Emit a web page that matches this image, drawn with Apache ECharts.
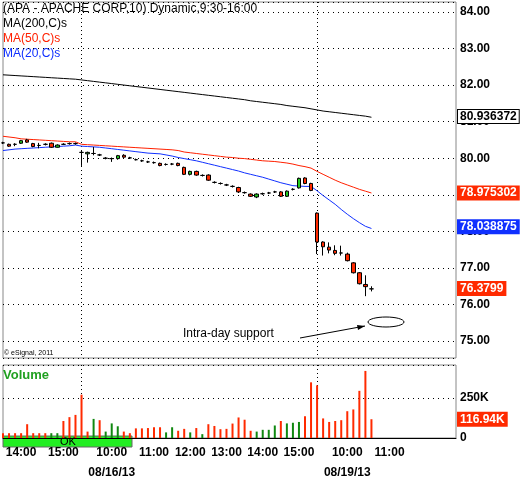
<!DOCTYPE html>
<html><head><meta charset="utf-8">
<script src="https://cdn.jsdelivr.net/npm/echarts@6/dist/echarts.min.js"></script>
<style>html,body{margin:0;padding:0;background:#fff}#c{width:521px;height:483px}</style>
</head><body><div id="c"></div>
<script>
// [open, close, low, high]
const candles = [
[80.42,80.42,80.39,80.45],[80.38,80.33,80.31,80.40],[80.38,80.38,80.33,80.41],[80.41,80.48,80.39,80.50],
[80.50,80.44,80.42,80.53],[80.40,80.32,80.30,80.42],[80.35,80.35,80.27,80.42],[80.38,80.38,80.35,80.41],
[80.41,80.30,80.28,80.43],[80.30,80.36,80.29,80.38],[80.38,80.38,80.36,80.41],[80.40,80.40,80.37,80.43],
[80.40,80.40,80.37,80.43],[80.16,80.16,79.79,80.21],[80.12,80.16,79.88,80.18],[80.13,80.13,80.08,80.31],
[80.09,80.09,80.06,80.12],[80.00,80.00,79.97,80.03],[79.99,79.99,79.90,80.02],[79.99,80.07,79.96,80.09],
[80.08,80.03,80.01,80.11],[80.01,80.01,79.98,80.04],[79.96,79.96,79.94,79.99],[79.93,79.93,79.90,79.96],
[79.90,79.90,79.87,79.93],[79.88,79.88,79.85,79.91],[79.86,79.80,79.78,79.88],[79.83,79.83,79.80,79.86],
[79.84,79.84,79.81,79.87],[79.86,79.80,79.78,79.88],[79.75,79.56,79.54,79.77],[79.56,79.64,79.53,79.66],
[79.64,79.54,79.52,79.66],[79.53,79.53,79.50,79.56],[79.54,79.40,79.38,79.56],[79.34,79.34,79.31,79.37],
[79.31,79.31,79.28,79.34],[79.27,79.27,79.24,79.30],[79.23,79.23,79.20,79.26],[79.20,79.08,79.05,79.22],
[79.06,79.06,79.03,79.09],[79.02,78.96,78.94,79.04],[78.94,79.02,78.91,79.04],[79.03,79.03,79.00,79.06],
[79.05,79.05,79.02,79.08],[79.08,79.08,79.05,79.11],[79.08,78.96,78.94,79.10],[78.96,79.10,78.94,79.12],
[79.15,79.15,79.12,79.18],[79.19,79.45,79.17,79.47],[79.46,79.31,79.29,79.48],[79.31,79.12,79.10,79.33],
[78.50,77.71,77.38,78.52],[77.71,77.58,77.34,77.73],[77.57,77.49,77.40,77.70],[77.48,77.40,77.35,77.62],
[77.41,77.41,77.34,77.61],[77.38,77.20,77.18,77.42],[77.14,76.87,76.85,77.16],[76.87,76.57,76.55,76.89],
[76.55,76.49,76.23,76.80],[76.43,76.43,76.36,76.50]];
const ma200 = [82.28,82.27,82.26,82.25,82.24,82.23,82.22,82.21,82.20,82.19,82.18,82.17,82.16,82.14,82.12,82.10,82.08,82.06,82.04,82.02,82.00,81.98,81.96,81.94,81.92,81.90,81.88,81.86,81.84,81.82,81.80,81.78,81.76,81.74,81.72,81.70,81.68,81.66,81.64,81.62,81.60,81.57,81.55,81.53,81.51,81.49,81.47,81.44,81.42,81.40,81.38,81.35,81.32,81.29,81.27,81.25,81.23,81.21,81.19,81.17,81.15,81.12];
const ma50 = [80.60,80.58,80.56,80.53,80.52,80.51,80.50,80.49,80.48,80.47,80.46,80.45,80.45,80.38,80.37,80.36,80.35,80.34,80.33,80.32,80.31,80.30,80.29,80.28,80.27,80.26,80.25,80.24,80.23,80.21,80.17,80.15,80.13,80.11,80.09,80.07,80.05,80.03,80.02,80.00,79.99,79.97,79.95,79.93,79.92,79.91,79.89,79.87,79.84,79.80,79.77,79.73,79.64,79.56,79.48,79.40,79.33,79.27,79.21,79.15,79.10,79.05];
const ma20 = [80.21,80.23,80.25,80.26,80.27,80.28,80.29,80.30,80.31,80.32,80.33,80.34,80.36,80.33,80.32,80.31,80.30,80.28,80.26,80.24,80.22,80.20,80.18,80.16,80.14,80.13,80.12,80.09,80.06,80.02,79.99,79.96,79.93,79.89,79.85,79.81,79.77,79.73,79.69,79.65,79.60,79.56,79.52,79.48,79.43,79.38,79.33,79.29,79.25,79.24,79.23,79.23,79.11,78.98,78.86,78.74,78.60,78.47,78.35,78.24,78.14,78.08];
const volume = [30,30,30,30,86,30,30,30,30,30,106,130,144,270,40,119,111,40,91,73,40,30,60,60,62,67,67,35,67,45,57,35,62,24,86,75,55,57,90,128,114,45,40,51,51,78,106,91,95,100,135,347,328,122,100,106,111,167,178,294,418,117];
const volColors = ['r','r','r','r','r','r','r','r','g','g','r','r','r','r','r','g','r','g','g','g','r','r','r','r','r','r','r','g','g','r','r','g','r','g','r','r','r','r','r','r','r','r','g','g','g','g','r','g','g','g','r','r','r','r','r','r','r','r','r','r','r','r'];
const timeLabels = {3:'14:00',10:'15:00',18:'10:00\n08/16/13',25:'11:00',31:'12:00',37:'13:00',43:'14:00',49:'15:00',57:'10:00\n08/19/13',64:'11:00'};
// right-edge value tags: [label text, position on axis]
const tagMA200 = ['80.936372',81.14], tagMA50 = ['78.975302',79.05], tagMA20 = ['78.038875',78.13], tagLast = ['76.3799',76.44], tagVol = ['116.94K',117];
const N = 76;
const cats = Array.from({length:N},(_,i)=>String(i));
const RED='#ff2a00', GREEN='#22cc22';
const pad = a => a.concat(Array(N-a.length).fill('-'));
const chart = echarts.init(document.getElementById('c'));
const ml = (t,bg,fg,bc)=>({silent:true,symbol:'none',lineStyle:{color:'rgba(0,0,0,0)',width:0},
  label:{show:true,position:'end',formatter:t[0],backgroundColor:bg,borderColor:bc||bg,borderWidth:1,color:fg,fontWeight:'bold',fontSize:12,fontFamily:'Arial',padding:[1,2,0,2],distance:2},
  data:[{yAxis:t[1]}]});
chart.setOption({
 animation:false,
 backgroundColor:'#fff',
 grid:[{left:3,right:65,top:2,height:356,show:true,borderColor:'#888',borderWidth:1},
       {left:3,right:65,top:365,height:82,show:true,borderColor:'#888',borderWidth:1}],
 xAxis:[{type:'category',gridIndex:0,data:cats,boundaryGap:false,axisLine:{show:false},axisTick:{show:false},axisLabel:{show:false},
   splitLine:{show:true,interval:(i)=>i===13||i===52,lineStyle:{color:'#000',type:[1,3]}}},
  {type:'category',gridIndex:1,data:cats,boundaryGap:false,axisLine:{lineStyle:{color:'#000'}},axisTick:{show:false},
   axisLabel:{interval:(i)=>timeLabels[i]!==undefined,formatter:(v,i)=>timeLabels[i]||'',fontWeight:'bold',fontSize:12,fontFamily:'Arial',color:'#000',lineHeight:20,margin:5},
   splitLine:{show:true,interval:(i)=>i===13||i===52,lineStyle:{color:'#000',type:[1,3]}}}],
 yAxis:[{type:'value',gridIndex:0,position:'right',min:74.54,max:84.27,splitNumber:9,axisLine:{show:false},axisTick:{show:false},
   axisLabel:{formatter:v=>v.toFixed(2),fontWeight:'bold',fontSize:12,fontFamily:'Arial',color:'#000',margin:4,showMaxLabel:false,showMinLabel:false},
   splitLine:{lineStyle:{color:'#000',type:[1,4]}}},
  {type:'value',gridIndex:1,position:'right',min:0,max:455,interval:250,axisLine:{show:false},axisTick:{show:false},
   axisLabel:{formatter:v=>v===0?'0':v+'K',fontWeight:'bold',fontSize:12,fontFamily:'Arial',color:'#000',margin:4,showMaxLabel:false},
   splitLine:{lineStyle:{color:'#000',type:[1,4]}}}],
 series:[
  {type:'line',data:pad(ma200),showSymbol:false,lineStyle:{color:'#000',width:1},markLine:ml(tagMA200,'#fff','#000','#000'),z:2},
  {type:'line',data:pad(ma50),showSymbol:false,lineStyle:{color:'#ff2000',width:1},markLine:ml(tagMA50,RED,'#fff'),z:2},
  {type:'line',data:pad(ma20),showSymbol:false,lineStyle:{color:'#1030ff',width:1},markLine:ml(tagMA20,'#1030ff','#fff'),z:2},
  {type:'candlestick',data:pad(candles),barWidth:4,z:3,
   itemStyle:{color:GREEN,color0:RED,borderColor:'#000',borderColor0:'#000',borderColorDoji:'#000',borderWidth:1},
   markLine:ml(tagLast,RED,'#fff')},
  {type:'bar',xAxisIndex:1,yAxisIndex:1,barWidth:2,
   data:pad(volume.map((v,i)=>({value:v,itemStyle:{color:volColors[i]==='g'?'#108810':RED}}))),
   markLine:ml(tagVol,RED,'#fff')}
 ],
 graphic:[
  {type:'text',left:3,top:3,style:{text:'(APA - APACHE CORP,10) Dynamic,9:30-16:00',font:'12px Arial',fill:'#000'}},
  {type:'text',left:3,top:18,style:{text:'MA(200,C)s',font:'12px Arial',fill:'#000'}},
  {type:'text',left:3,top:33,style:{text:'MA(50,C)s',font:'12px Arial',fill:'#ff2000'}},
  {type:'text',left:3,top:48,style:{text:'MA(20,C)s',font:'12px Arial',fill:'#1030ff'}},
  {type:'text',left:4,top:350,style:{text:'© eSignal, 2011',font:'7px Arial',fill:'#000'}},
  {type:'text',left:183,top:328,style:{text:'Intra-day support',font:'12px Arial',fill:'#000'}},
  {type:'line',shape:{x1:300,y1:338,x2:365,y2:326},style:{stroke:'#000',lineWidth:1}},
  {type:'polygon',shape:{points:[[365,326],[357,325],[358,330]]},style:{fill:'#000'}},
  {type:'ellipse',shape:{cx:386,cy:322,rx:18,ry:5},style:{stroke:'#000',fill:'none',lineWidth:1}},
  {type:'text',left:3,top:369,style:{text:'Volume',font:'bold 13px Arial',fill:'#20a020'}},
  {type:'rect',shape:{x:3,y:436,width:129,height:11},style:{fill:'#22ee22',stroke:'#666'}},
  {type:'text',left:60,top:436,style:{text:'OK',font:'11px Arial',fill:'#000'}}
 ]
});
</script></body></html>
